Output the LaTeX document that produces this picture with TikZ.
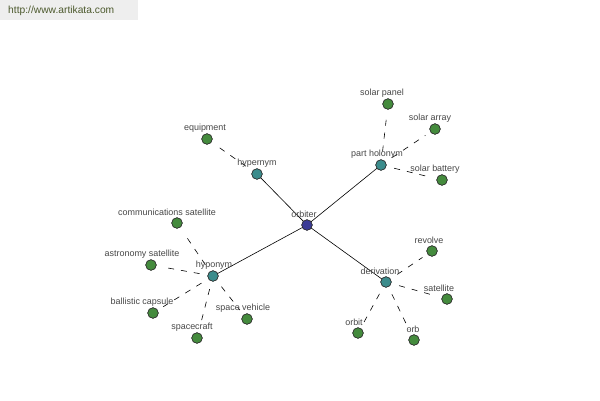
\documentclass[tikz,border=0pt]{standalone}
\usepackage{fontspec}
\setmainfont{Liberation Sans}
\begin{document}
\begin{tikzpicture}[x=1bp,y=-1bp,
  leaf/.style={circle,draw=black!80,line width=0.6bp,fill=leafgreen,minimum size=10.5bp,inner sep=0pt},
  mid/.style={circle,draw=black!80,line width=0.6bp,fill=midteal,minimum size=10.5bp,inner sep=0pt},
  hub/.style={circle,draw=black!80,line width=0.6bp,fill=hubblue,minimum size=10.5bp,inner sep=0pt},
  lbl/.style={font=\fontsize{9}{10}\selectfont,text=labelgray,inner sep=0pt},
  solidedge/.style={draw=black,line width=0.6bp},
  dashedge/.style={draw=black,line width=0.6bp,dash pattern=on 6bp off 7bp,shorten <=8bp,shorten >=6bp}]
\definecolor{leafgreen}{HTML}{448B3D}
\definecolor{midteal}{HTML}{3B8C8C}
\definecolor{hubblue}{HTML}{3B3B96}
\definecolor{labelgray}{HTML}{484848}
\definecolor{headergray}{HTML}{EEEEEE}
\definecolor{headertext}{HTML}{4D5A2E}
\useasboundingbox[fill=white] (0,0) rectangle (600,400);
\fill[headergray] (0,0) rectangle (138,20);
\node[anchor=west,font=\fontsize{10.3}{12}\selectfont,text=headertext,inner sep=0pt] (url) at (8,11) {http://www.artikata.com};
% nodes
\node[hub] (orbiter) at (307,225) {};
\node[mid] (hypernym) at (257,174) {};
\node[mid] (holonym) at (381,165) {};
\node[mid] (hyponym) at (213,276) {};
\node[mid] (derivation) at (386,282) {};
\node[leaf] (equipment) at (207,139) {};
\node[leaf] (solarpanel) at (388,104) {};
\node[leaf] (solararray) at (435,129) {};
\node[leaf] (solarbattery) at (442,180) {};
\node[leaf] (commsat) at (177,223) {};
\node[leaf] (astrosat) at (151,265) {};
\node[leaf] (ballistic) at (153,313) {};
\node[leaf] (spacecraft) at (197,338) {};
\node[leaf] (spacevehicle) at (247,319) {};
\node[leaf] (revolve) at (432,251) {};
\node[leaf] (satellite) at (447,299) {};
\node[leaf] (orbit) at (358,333) {};
\node[leaf] (orb) at (414,340) {};
% edges
\draw[solidedge] (orbiter.center) -- (hypernym.center);
\draw[solidedge] (orbiter.center) -- (holonym.center);
\draw[solidedge] (orbiter.center) -- (hyponym.center);
\draw[solidedge] (orbiter.center) -- (derivation.center);
\draw[dashedge] (hypernym) -- (equipment);
\draw[dashedge] (holonym) -- (solarpanel);
\draw[dashedge] (holonym) -- (solararray);
\draw[dashedge] (holonym) -- (solarbattery);
\draw[dashedge] (hyponym) -- (commsat);
\draw[dashedge] (hyponym) -- (astrosat);
\draw[dashedge] (hyponym) -- (ballistic);
\draw[dashedge] (hyponym) -- (spacecraft);
\draw[dashedge] (hyponym) -- (spacevehicle);
\draw[dashedge] (derivation) -- (revolve);
\draw[dashedge] (derivation) -- (satellite);
\draw[dashedge] (derivation) -- (orbit);
\draw[dashedge] (derivation) -- (orb);
% redraw nodes on top
\foreach \n/\s in {orbiter/hub,hypernym/mid,holonym/mid,hyponym/mid,derivation/mid}{\node[\s] at (\n.center) {};}
\foreach \n in {equipment,solarpanel,solararray,solarbattery,commsat,astrosat,ballistic,spacecraft,spacevehicle,revolve,satellite,orbit,orb}{\node[leaf] at (\n.center) {};}
% labels
\node[lbl] (l-orbiter) at (304,214) {orbiter};
\node[lbl] (l-hypernym) at (257,163) {hypernym};
\node[lbl] (l-holonym) at (377,154) {part holonym};
\node[lbl] (l-hyponym) at (214,265) {hyponym};
\node[lbl] (l-derivation) at (380,271) {derivation};
\node[lbl] (l-equipment) at (205,128) {equipment};
\node[lbl] (l-solarpanel) at (382,93) {solar panel};
\node[lbl] (l-solararray) at (430,118) {solar array};
\node[lbl] (l-solarbattery) at (435,169) {solar battery};
\node[lbl] (l-commsat) at (167,212) {communications satellite};
\node[lbl] (l-astrosat) at (142,254) {astronomy satellite};
\node[lbl] (l-ballistic) at (142,302) {ballistic capsule};
\node[lbl] (l-spacecraft) at (192,327) {spacecraft};
\node[lbl] (l-spacevehicle) at (243,308) {space vehicle};
\node[lbl] (l-revolve) at (429,240) {revolve};
\node[lbl] (l-satellite) at (439,288) {satellite};
\node[lbl] (l-orbit) at (354,322) {orbit};
\node[lbl] (l-orb) at (413,329) {orb};
\end{tikzpicture}
\end{document}
